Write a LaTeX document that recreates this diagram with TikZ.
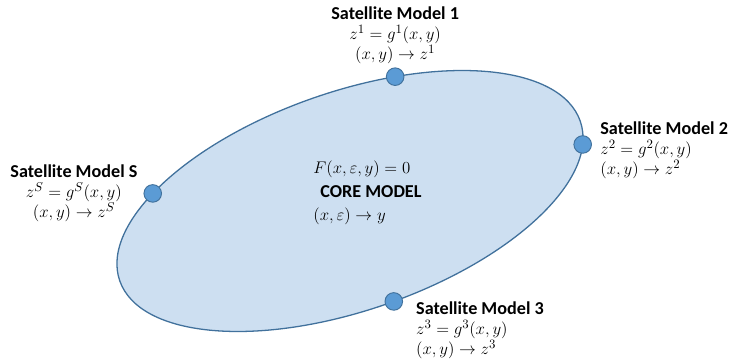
\documentclass[tikz,border=0pt]{standalone}
\usepackage{fontspec}
\setmainfont{Carlito}
\usetikzlibrary{positioning}

\definecolor{coreFill}{RGB}{205,223,241}
\definecolor{coreLine}{RGB}{65,113,156}
\definecolor{dotFill}{RGB}{91,155,213}

\tikzset{
    % Shapes
    coreShape/.style={draw=coreLine, fill=coreFill, line width=1.1pt},
    satDot/.style={circle, draw=coreLine, fill=dotFill, line width=0.8pt,
                   minimum size=15pt, inner sep=0pt},
    % Labels
    lbl/.style={font=\fontsize{15.5}{17}\selectfont, inner sep=1pt},
    coreLbl/.style={font=\fontsize{15.5}{20}\selectfont, inner sep=1pt}
}

\begin{document}
\begin{tikzpicture}[x=0.03cm, y=0.03cm]
\useasboundingbox (0,0) rectangle (734,362);

% core ellipse and the four satellite points on it
\begin{scope}[shift={(350,161)}, rotate=19.1]
  \draw[coreShape] (0,0) ellipse [x radius=243.7, y radius=109.3];
  \node[satDot] (dot1) at (70:243.7 and 109.3) {};
  \node[satDot] (dot2) at (-12:243.7 and 109.3) {};
  \node[satDot] (dot3) at (-88:243.7 and 109.3) {};
  \node[satDot] (dotS) at (139:243.7 and 109.3) {};
\end{scope}

\node[coreLbl, align=left, anchor=west] (core) at (312,169)
  {$F(x,\varepsilon,y)=0$\\\hspace{6pt}\textbf{CORE MODEL}\\$(x,\varepsilon)\to y$};

\node[lbl, align=center, above=2pt of dot1] (sat1)
  {\textbf{Satellite Model 1}\\$z^1=g^1(x,y)$\\$(x,y)\to z^1$};
\node[lbl, align=left, right=6pt of dot2, yshift=-5pt] (sat2)
  {\textbf{Satellite Model 2}\\$z^2=g^2(x,y)$\\$(x,y)\to z^2$};
\node[lbl, align=left, right=10pt of dot3, anchor=north west, yshift=1pt] (sat3)
  {\textbf{Satellite Model 3}\\$z^3=g^3(x,y)$\\$(x,y)\to z^3$};
\node[lbl, align=center, left=4pt of dotS, yshift=0pt] (satS)
  {\textbf{Satellite Model S}\\$z^S=g^S(x,y)$\\$(x,y)\to z^S$};

\end{tikzpicture}
\end{document}
